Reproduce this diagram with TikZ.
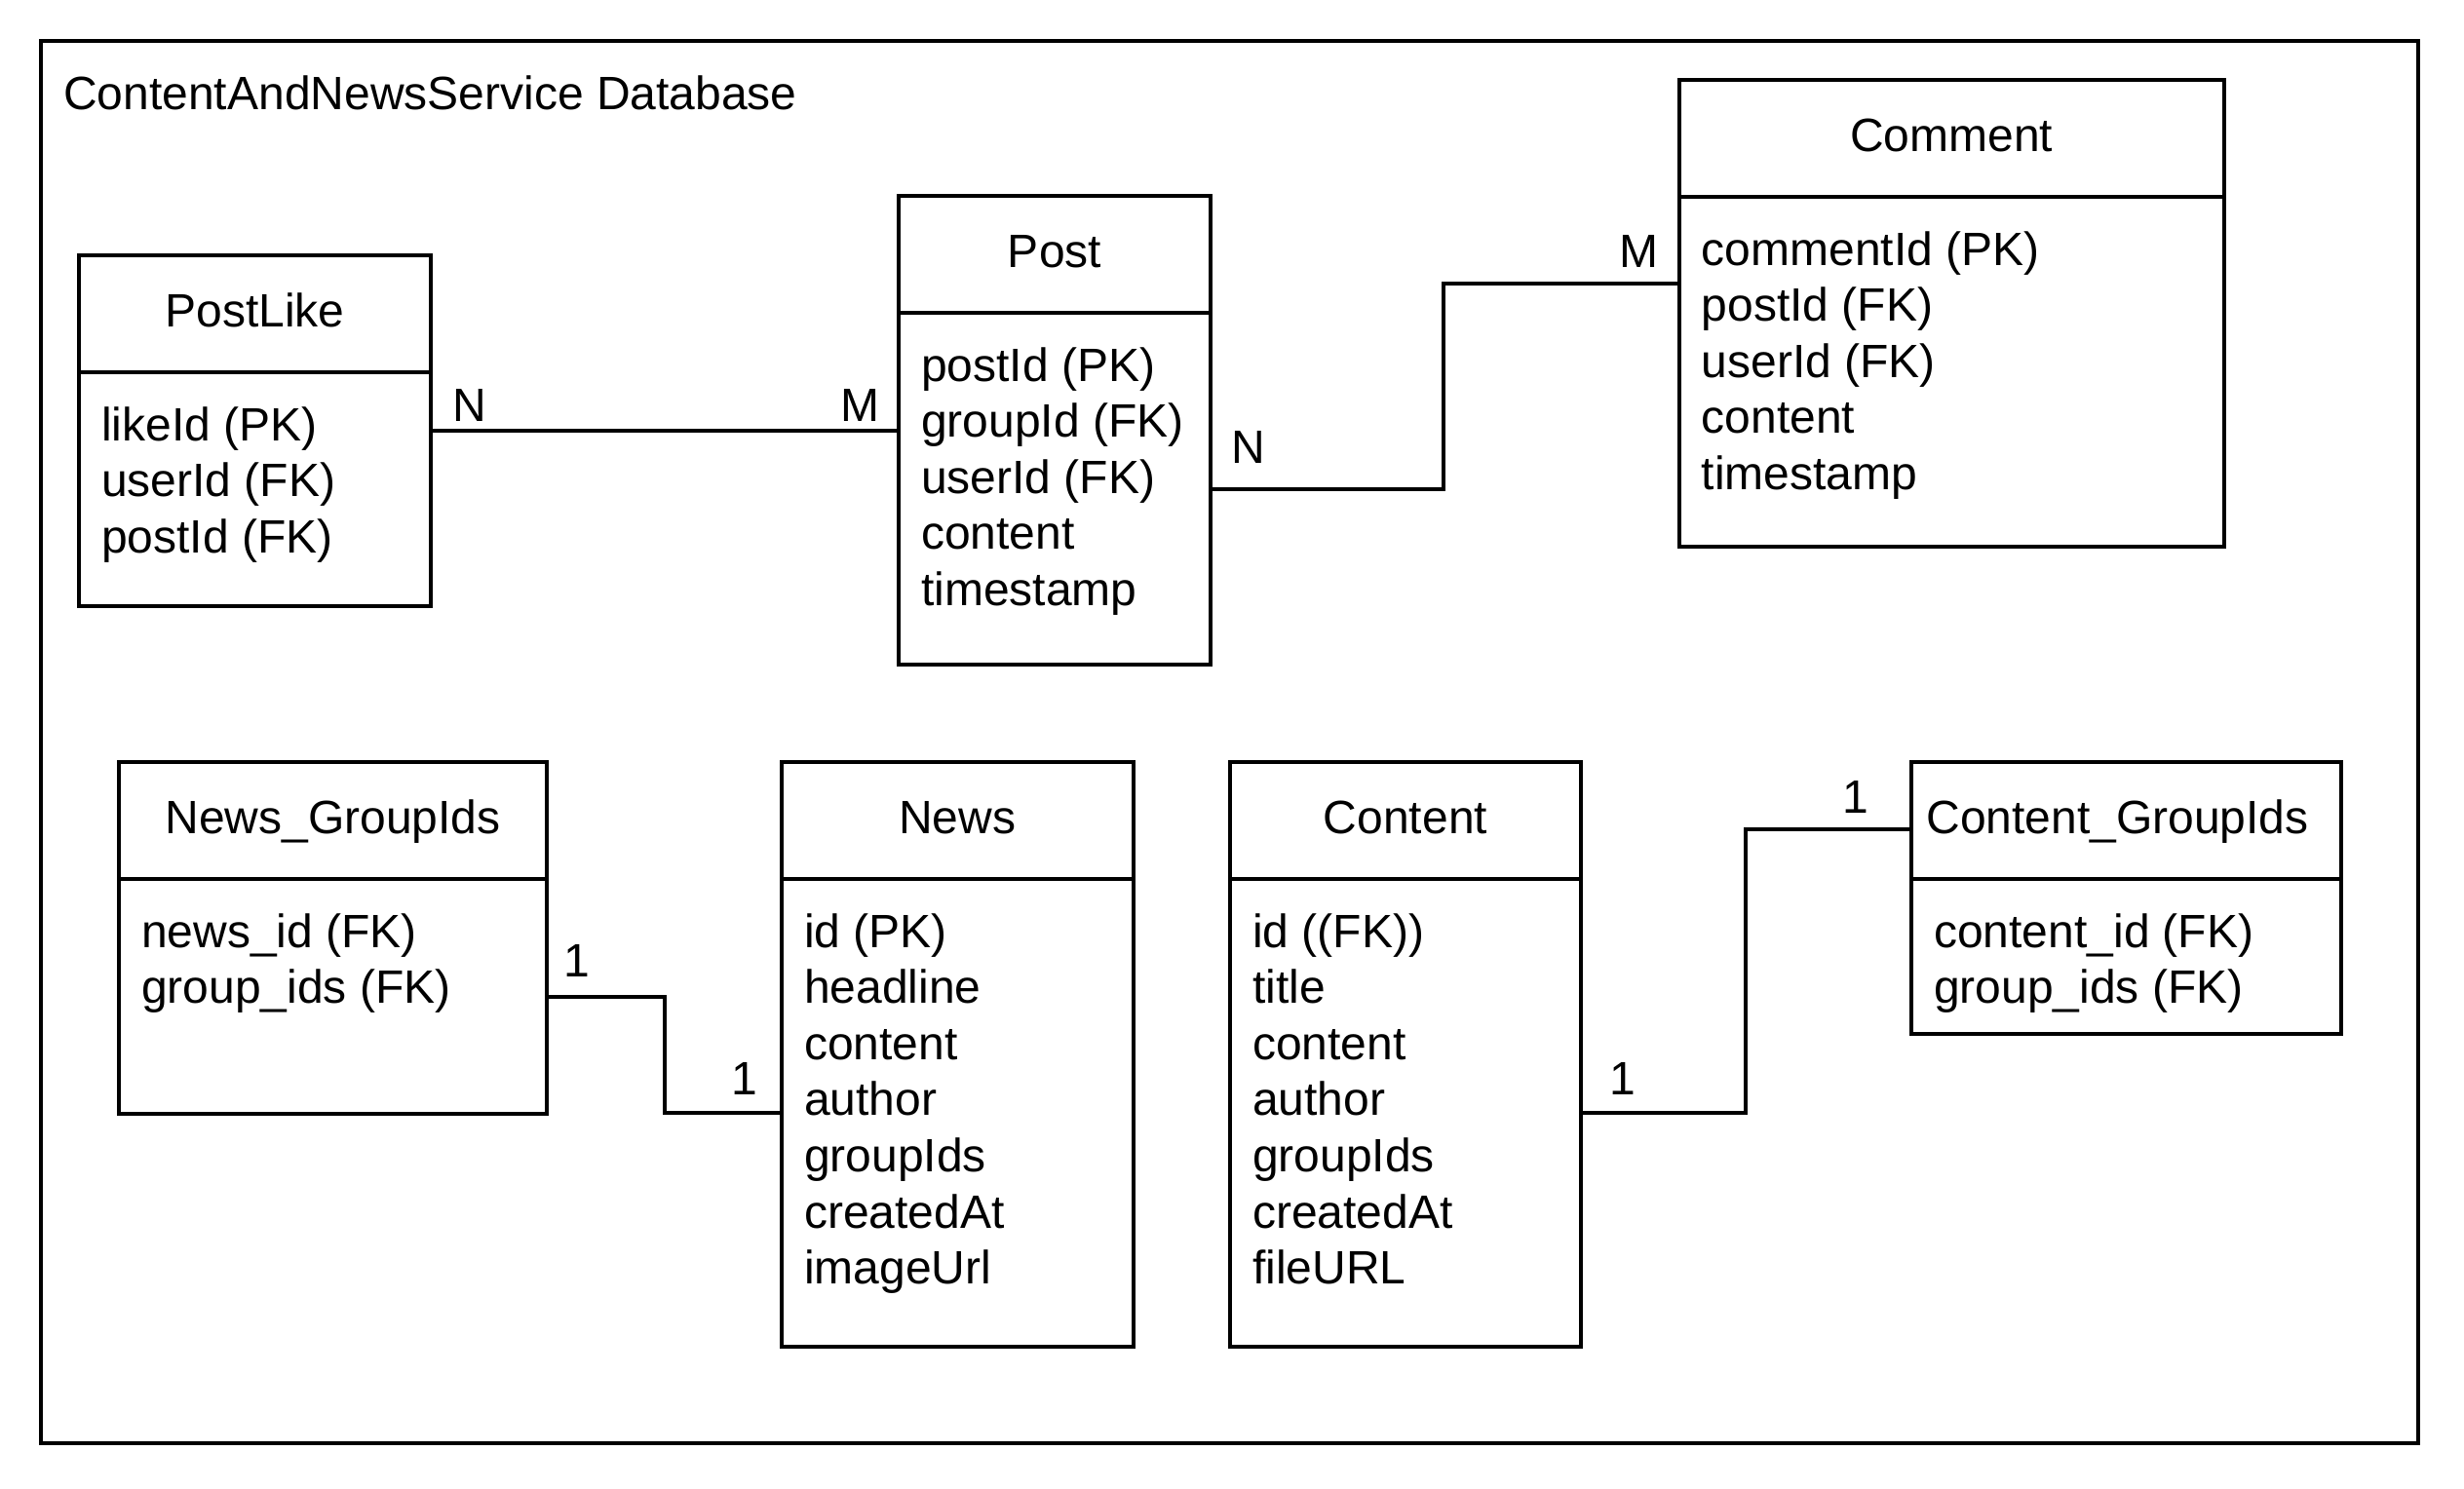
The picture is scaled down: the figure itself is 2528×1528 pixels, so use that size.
\documentclass[tikz,border=0pt]{standalone}
\usepackage{fontspec}
\setmainfont{Liberation Sans}
\newcommand\mkentity[7][0]{% [title xshift] name, x, y, w, h, title
  \node[tbl, minimum width=#5pt, minimum height=#6pt] (#2) at (#3,#4) {};
  \draw[line width=4pt] ([yshift=-120pt]#2.north west) -- ([yshift=-120pt]#2.north east);
  \node[ttl] (#2-t) at ([xshift=#1pt,yshift=-73pt]#2.north) {#7};
}
\newcommand\mkfields[2]{% name, list
  \foreach \f [count=\i, evaluate=\i as \dy using -190-57.6*(\i-1)] in {#2}
    \node[fld] (#1-f\i) at ([xshift=23pt,yshift=\dy pt]#1.north west) {\f};
}
\begin{document}
\begin{tikzpicture}[x=1pt,y=-1pt,
  tbl/.style={draw,line width=4pt,rectangle,inner sep=0pt,outer sep=0pt,anchor=north west},
  conn/.style={draw,line width=4pt},
  txt/.style={inner sep=0pt,font=\fontsize{48}{57.6}\selectfont},
  fld/.style={txt,anchor=base west},
  ttl/.style={txt,anchor=base},
  card/.style={txt,anchor=base west}]
\useasboundingbox (0,0) rectangle (2528,1528);
\node[tbl, minimum width=2439pt, minimum height=1439pt] (frame) at (42,42) {};
\node[card] (frametitle) at (65,112) {ContentAndNewsService Database};

\mkentity{postlike}{81}{262}{361}{360}{PostLike}
\mkfields{postlike}{likeId (PK), userId (FK), postId (FK)}
\mkentity{post}{922}{201}{320}{481}{Post}
\mkfields{post}{postId (PK), groupId (FK), userId (FK), content, timestamp}
\mkentity{comment}{1722.6}{82}{559}{479}{Comment}
\mkfields{comment}{commentId (PK), postId (FK), userId (FK), content, timestamp}
\mkentity{newsg}{122}{782}{439}{360.5}{News\_GroupIds}
\mkfields{newsg}{news\_id (FK), group\_ids (FK)}
\mkentity{news}{802}{782}{360.5}{600}{News}
\mkfields{news}{id (PK), headline, content, author, groupIds, createdAt, imageUrl}
\mkentity{content}{1262}{782}{360}{600}{Content}
\mkfields{content}{id ((FK)), title, content, author, groupIds, createdAt, fileURL}
\mkentity[-9]{contentg}{1961}{782}{441}{279}{Content\_GroupIds}
\mkfields{contentg}{content\_id (FK), group\_ids (FK)}

\draw[conn] ([yshift=-180pt]postlike.north east) coordinate (c1) -- (c1 -| post.west);
\coordinate (k2) at (1481,291);
\draw[conn] ([yshift=-301pt]post.north east) -| (k2) -- (k2 -| comment.west);
\coordinate (k3) at (681.6,1141.5);
\draw[conn] ([yshift=-240.5pt]newsg.north east) -| (k3) -- (k3 -| news.west);
\coordinate (k4) at (1791,851.4);
\draw[conn] ([yshift=-359.5pt]content.north east) -| (k4) -- (k4 -| contentg.west);

\node[card] (l1) at (464,432) {N};
\node[card] (l2) at (862,432) {M};
\node[card] (l3) at (1263,475) {N};
\node[card] (l4) at (1661,274) {M};
\node[card] (l5) at (578,1002) {1};
\node[card] (l6) at (750,1123) {1};
\node[card] (l7) at (1651,1123) {1};
\node[card] (l8) at (1890,834) {1};
\end{tikzpicture}
\end{document}
